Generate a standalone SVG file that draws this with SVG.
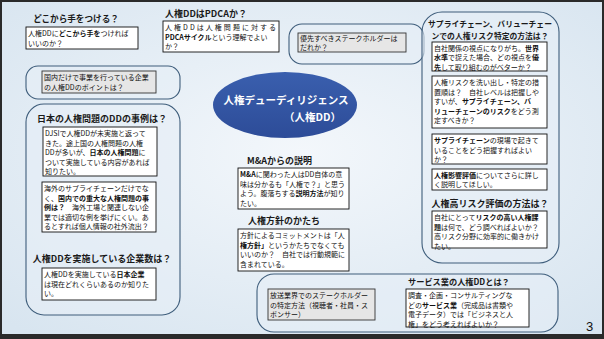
<svg xmlns="http://www.w3.org/2000/svg" width="604" height="339" viewBox="0 0 604 339">
<defs>
<radialGradient id="bg" cx="0.5" cy="0.45" r="0.7">
<stop offset="0" stop-color="#f3f7fb"/>
<stop offset="1" stop-color="#d8e5f0"/>
</radialGradient>
<linearGradient id="ell" x1="0" y1="0" x2="0" y2="1">
<stop offset="0" stop-color="#3a5fae"/>
<stop offset="1" stop-color="#2d4c98"/>
</linearGradient>
<style>
text{font-family:"Noto Sans CJK JP","Noto Sans",sans-serif;fill:#111}
.t{font-size:7px}
.h{font-size:9px;font-weight:bold;fill:#1a1a1a}
.b{font-weight:bold}
.grp{fill:#e6eff7;fill-opacity:0.6;stroke:#3e5d7b;stroke-width:1.1}
.wb{fill:#ffffff;stroke:#111;stroke-width:0.9}
.gb{fill:#e6e6e6;stroke:#333;stroke-width:0.9}
.et{font-size:10.5px;font-weight:bold;fill:#ffffff}
</style>
</defs>
<rect x="0" y="0" width="604" height="339" fill="url(#bg)"/>
<rect x="1" y="1" width="602" height="337" fill="none" stroke="#2a2a2a" stroke-width="2"/>
<rect x="0" y="334" width="604" height="5" fill="#2a2a2a"/>

<g id="node-dokokara">
<text class="h" x="76" y="22" text-anchor="middle" style="font-size:8.6px">どこから手をつける？</text>
<rect class="wb" x="26" y="27" width="112" height="22"/>
<text class="t" x="28" y="36">人権DDに<tspan class="b">どこから手を</tspan>つければ</text>
<text class="t" x="28" y="45.5">いいのか？</text>
</g>

<g id="node-pdca">
<text class="h" x="165" y="17">人権DDはPDCAか？</text>
<rect class="wb" x="163" y="21" width="116" height="31"/>
<text class="t" x="165" y="30" textLength="111" lengthAdjust="spacing">人権DDは人権問題に対する</text>
<text class="t" x="165" y="39.5"><tspan class="b">PDCAサイクル</tspan>という理解でよい</text>
<text class="t" x="165" y="49">か？</text>
</g>

<g id="node-stakeholder">
<rect class="grp" x="289" y="24" width="135" height="40" rx="13"/>
<rect class="gb" x="298" y="33" width="108" height="19"/>
<text class="t" x="300" y="41">優先すべきステークホルダーは</text>
<text class="t" x="300" y="50">だれか？</text>
</g>

<g id="node-kokunai">
<rect class="grp" x="26" y="66" width="154" height="33" rx="12"/>
<rect class="gb" x="42" y="71" width="114" height="22"/>
<text class="t" x="44" y="80">国内だけで事業を行っている企業</text>
<text class="t" x="44" y="89.5">の人権DDのポイントは？</text>
</g>

<g id="node-nihon">
<rect class="grp" x="26" y="104" width="154" height="211" rx="18"/>
<text class="h" x="102" y="122" text-anchor="middle">日本の人権問題のDDの事例は？</text>
<rect class="wb" x="43" y="127" width="114" height="49"/>
<text class="t" x="45" y="136">DJSIで人権DDが未実施と返って</text>
<text class="t" x="45" y="145.5">きた。途上国の人権問題の人権</text>
<text class="t" x="45" y="155">DDが多いが、<tspan class="b">日本の人権問題</tspan>に</text>
<text class="t" x="45" y="164.5">ついて実施している内容があれば</text>
<text class="t" x="45" y="174">知りたい。</text>
<rect class="wb" x="42" y="182" width="114" height="50"/>
<text class="t" x="44" y="191">海外のサプライチェーンだけでな</text>
<text class="t" x="44" y="200.5">く、<tspan class="b">国内での重大な人権問題の事</tspan></text>
<text class="t" x="44" y="210"><tspan class="b">例は？</tspan>　海外工場と関連しない企</text>
<text class="t" x="44" y="219.5">業では適切な例を挙げにくい。あ</text>
<text class="t" x="44" y="229">るとすれば個人情報の社外流出？</text>
<text class="h" x="102" y="262" text-anchor="middle">人権DDを実施している企業数は？</text>
<rect class="wb" x="42" y="268" width="114" height="32"/>
<text class="t" x="44" y="277">人権DDを実施している<tspan class="b">日本企業</tspan></text>
<text class="t" x="44" y="286.5">は現在どれくらいあるのか知りた</text>
<text class="t" x="44" y="296">い。</text>
</g>

<g id="node-center">
<ellipse cx="285" cy="105" rx="72" ry="33" fill="url(#ell)"/>
<text class="et" x="286" y="104" text-anchor="middle">人権デューディリジェンス</text>
<text class="et" x="341" y="121" text-anchor="end">（人権DD）</text>
</g>

<g id="node-ma">
<text class="h" x="247" y="164">M&amp;Aからの説明</text>
<rect class="wb" x="238" y="168" width="111" height="41"/>
<text class="t" x="240" y="177"><tspan class="b">M&amp;A</tspan>に関わった人はDD自体の意</text>
<text class="t" x="240" y="186.5">味は分かるも「人権で？」と思う</text>
<text class="t" x="240" y="196">よう。腹落ちする<tspan class="b">説明方法</tspan>が知り</text>
<text class="t" x="240" y="205.5">たい。</text>
</g>

<g id="node-hoshin">
<text class="h" x="248" y="224">人権方針のかたち</text>
<rect class="wb" x="238" y="229" width="111" height="42"/>
<text class="t" x="240" y="238">方針によるコミットメントは「人</text>
<text class="t" x="240" y="247.5"><tspan class="b">権方針」</tspan>というかたちでなくても</text>
<text class="t" x="240" y="257">いいのか？　自社では行動規範に</text>
<text class="t" x="240" y="266.5">含まれている。</text>
</g>

<g id="node-service">
<rect class="grp" x="257" y="274" width="301" height="58" rx="17"/>
<rect class="gb" x="268" y="289" width="107" height="31"/>
<text class="t" x="270" y="298">放送業界でのステークホルダー</text>
<text class="t" x="270" y="307.5">の特定方法（視聴者・社員・ス</text>
<text class="t" x="270" y="317">ポンサー）</text>
<text class="h" x="408" y="285" style="font-size:8.2px">サービス業の人権DDとは？</text>
<rect class="wb" x="406" y="289" width="123" height="38"/>
<text class="t" x="408" y="298">調査・企画・コンサルティングな</text>
<text class="t" x="408" y="307.5">どの<tspan class="b">サービス業</tspan>（完成品は書類や</text>
<text class="t" x="408" y="317">電子データ）では「ビジネスと人</text>
<text class="t" x="408" y="326.5">権」をどう考えればよいか？</text>
</g>

<g id="node-supply">
<rect class="grp" x="422" y="12" width="137" height="251" rx="20"/>
<text class="h" x="490" y="27" text-anchor="middle" style="font-size:7.8px">サプライチェーン、バリューチェー</text>
<text class="h" x="490" y="38.5" text-anchor="middle" style="font-size:7.8px">ンでの人権リスク特定の方法は？</text>
<rect class="wb" x="432" y="42" width="115" height="29"/>
<text class="t" x="434" y="50.5">自社関係の視点になりがち。<tspan class="b">世界</tspan></text>
<text class="t" x="434" y="60"><tspan class="b">水準</tspan>で捉えた場合、どの視点を<tspan class="b">優</tspan></text>
<text class="t" x="434" y="69.5"><tspan class="b">先</tspan>して取り組むのがベターか？</text>
<rect class="wb" x="432" y="76" width="115" height="52"/>
<text class="t" x="434" y="85">人権リスクを洗い出し・特定の措</text>
<text class="t" x="434" y="94.5">置順は？　自社レベルは把握しや</text>
<text class="t" x="434" y="104">すいが、<tspan class="b">サプライチェーン、バ</tspan></text>
<text class="t" x="434" y="113.5"><tspan class="b">リューチェーンのリスク</tspan>をどう測</text>
<text class="t" x="434" y="123">定すべきか？</text>
<rect class="wb" x="432" y="134" width="115" height="30"/>
<text class="t" x="434" y="143"><tspan class="b">サプライチェーン</tspan>の現場で起きて</text>
<text class="t" x="434" y="152.5">いることをどう把握すればよい</text>
<text class="t" x="434" y="162">か？</text>
<rect class="wb" x="432" y="169" width="115" height="21"/>
<text class="t" x="434" y="177.5"><tspan class="b">人権影響評価</tspan>についてさらに詳し</text>
<text class="t" x="434" y="187">く説明してほしい。</text>
<text class="h" x="490" y="207" text-anchor="middle">人権高リスク評価の方法は？</text>
<rect class="wb" x="432" y="211" width="115" height="37"/>
<text class="t" x="434" y="220">自社にとって<tspan class="b">リスクの高い人権課</tspan></text>
<text class="t" x="434" y="229.5"><tspan class="b">題</tspan>は何で、どう調べればよいか？</text>
<text class="t" x="434" y="239">高リスク分野に効率的に働きかけ</text>
<text class="t" x="434" y="248.5">たい。</text>
</g>

<text x="586" y="331" font-size="13px" fill="#222" style="font-family:'Liberation Sans',sans-serif">3</text>
</svg>
